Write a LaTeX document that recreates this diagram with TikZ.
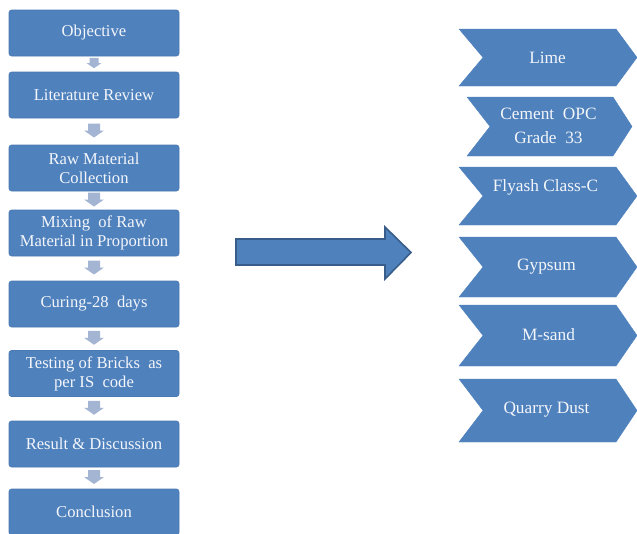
\documentclass[tikz,border=0pt]{standalone}
\usepackage{fontspec}
\setmainfont{Liberation Serif}
\usetikzlibrary{calc}
\definecolor{obl}{HTML}{4F81BD}
\definecolor{obd}{HTML}{4A78B2}
\definecolor{arrd}{HTML}{385D8A}
\definecolor{sarr}{HTML}{A3B5D3}
\definecolor{txt}{HTML}{F4F6FA}
\tikzset{
  lbox/.style={draw=obd, fill=obl, rounded corners=2.5pt, line width=0.6pt,
    minimum width=170pt, minimum height=46pt, inner sep=1pt,
    text=txt, align=center, font=\fontsize{16.6}{19}\selectfont},
  chevtext/.style={text=txt, align=center, font=\fontsize{17.3}{24}\selectfont, inner sep=0pt},
  chevfill/.style={fill=obl, draw=obl, line width=0.4pt},
  pics/darr/.style={code={
    \fill[sarr] (-6,-7) -- (6,-7) -- (6,0) -- (10,0) -- (0,7) -- (-10,0) -- (-6,0) -- cycle;}}
}
\newcommand\mychev[7]{% name, top, bottom, left, notch, righttop, tip
  \fill[chevfill] (#4,#2) -- (#6,#2) -- (#7,{(#2+#3)/2}) -- (#6,#3) -- (#4,#3) -- (#5,{(#2+#3)/2}) -- cycle;
  \coordinate (#1) at ({(#5+#6)/2},{(#2+#3)/2});
}
\begin{document}
\begin{tikzpicture}[x=1pt,y=-1pt]
\useasboundingbox (0,0) rectangle (637,533);
% left flow
\node[lbox] (b1) at (94,33) {Objective};
\node[lbox] (b2) at (94,95) {Literature Review};
\node[lbox] (b3) at (94,168) {Raw Material\\Collection};
\node[lbox] (b4) at (94,233) {Mixing \ of Raw\\Material in Proportion};
\node[lbox] (b5) at (94,304) {Curing-28 \ days};
\node[lbox] (b6) at (94,373.5) {Testing of Bricks \ as\\per IS \ code};
\node[lbox] (b7) at (94,444) {Result \& Discussion};
\node[lbox] (b8) at (94,512) {Conclusion};
% small arrows
\pic[scale=0.75] at ($(b1.south)!0.5!(b2.north)+(0,-1)$) {darr};
\foreach \a/\b in {b2/b3,b3/b4,b4/b5,b5/b6,b6/b7,b7/b8}
  \pic at ($(\a.south)!0.5!(\b.north)+(0,-1)$) {darr};
% big arrow
\filldraw[fill=obl, draw=arrd, line width=1.6pt, line join=miter]
  (236,239) -- (385,239) -- (385,227) -- (411,252.5) -- (385,279) -- (385,265) -- (236,265) -- cycle;
% chevrons
\mychev{c1}{29}{86}{459}{483}{616}{637}
\mychev{c2}{97}{156}{467}{490}{613}{632}
\mychev{c3}{167}{225}{459}{483}{616}{637}
\mychev{c4}{237}{297}{459}{483}{616}{637}
\mychev{c5}{305}{366}{459}{483}{616}{637}
\mychev{c6}{379}{442}{459}{483}{616}{637}
\node[chevtext] (t1) at ($(c1)+(-2,0)$) {Lime};
\node[chevtext] (t2) at ($(c2)+(-3,-1)$) {Cement \ OPC\\Grade \ 33};
\node[chevtext] (t3) at ($(c3)+(-4,-9)$) {Flyash Class-C};
\node[chevtext] (t4) at ($(c4)+(-3,0)$) {Gypsum};
\node[chevtext] (t5) at ($(c5)+(-1,-1)$) {M-sand};
\node[chevtext] (t6) at ($(c6)+(-3,-1)$) {Quarry Dust};
\end{tikzpicture}
\end{document}
